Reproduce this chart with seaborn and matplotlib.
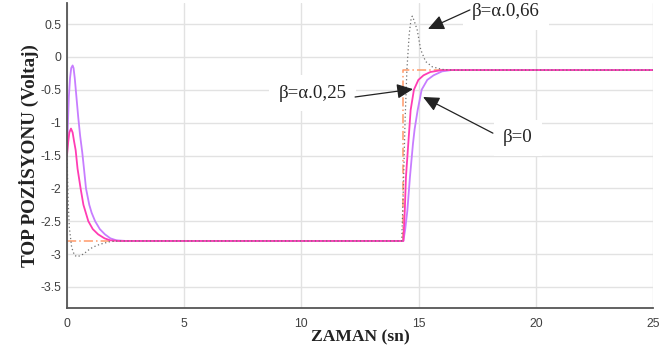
import seaborn as sns
import matplotlib.pyplot as plt

# time (s) / ball position (V)
t_ref = [0, 14.33, 14.33, 25]
v_ref = [-2.8, -2.8, -0.2, -0.2]

t_b0 = [0, 0.04, 0.08, 0.13, 0.18, 0.24, 0.28, 0.33, 0.40, 0.48, 0.56, 0.65, 0.73, 0.81,
        0.95, 1.05, 1.2, 1.4, 1.62, 1.85, 2.1, 2.5,
        14.35, 14.43, 14.52, 14.63, 14.76, 14.83, 14.96, 15.13, 15.37, 15.64, 16.0, 16.4, 25]
v_b0 = [-1.5, -1.0, -0.6, -0.32, -0.17, -0.13, -0.17, -0.32, -0.6, -0.92, -1.2, -1.45, -1.72, -2.0,
        -2.25, -2.37, -2.5, -2.62, -2.7, -2.76, -2.79, -2.8,
        -2.8, -2.62, -2.34, -1.83, -1.32, -1.1, -0.81, -0.5, -0.35, -0.28, -0.22, -0.2, -0.2]

t_b25 = [0, 0.05, 0.1, 0.17, 0.24, 0.3, 0.37, 0.45, 0.58, 0.7, 0.91, 1.1, 1.33, 1.6, 1.84, 2.2,
         14.35, 14.41, 14.46, 14.56, 14.66, 14.8, 14.99, 15.21, 15.5, 16.0, 25]
v_b25 = [-1.5, -1.3, -1.15, -1.09, -1.15, -1.28, -1.42, -1.7, -2.0, -2.25, -2.5, -2.62, -2.7, -2.76, -2.79, -2.8,
         -2.8, -2.34, -1.83, -1.32, -0.81, -0.5, -0.35, -0.28, -0.23, -0.2, -0.2]

t_b66 = [0, 0.05, 0.1, 0.2, 0.32, 0.45, 0.7, 0.98, 1.2, 1.41, 1.84, 2.2,
         14.28, 14.35, 14.42, 14.5, 14.6, 14.68, 14.73, 14.8, 14.94, 15.09, 15.3, 15.58, 16.0, 16.4, 25]
v_b66 = [-1.5, -2.2, -2.6, -2.9, -3.02, -3.04, -3.0, -2.92, -2.88, -2.85, -2.81, -2.8,
         -2.8, -2.0, -1.0, -0.2, 0.35, 0.58, 0.62, 0.56, 0.41, 0.11, -0.07, -0.15, -0.19, -0.2, -0.2]

x_ticks = [0, 5, 10, 15, 20, 25]
y_ticks = [0.5, 0, -0.5, -1, -1.5, -2, -2.5, -3, -3.5]

sns.set_theme(style="white")
plt.rcParams['font.family'] = ['Liberation Sans', 'DejaVu Sans']
plt.rcParams['axes.unicode_minus'] = False

fig = plt.figure(figsize=(6.7, 3.55), dpi=100)
ax = fig.add_axes([67 / 670, 47 / 355, 586 / 670, 305 / 355])

kw = dict(estimator=None, sort=False, ax=ax)
sns.lineplot(x=t_ref, y=v_ref, color="#ff9a6a", lw=1.1, linestyle=(0, (6, 2, 1, 2)), **kw)
sns.lineplot(x=t_b0, y=v_b0, color="#c77dff", lw=1.3, **kw)
sns.lineplot(x=t_b25, y=v_b25, color="#ff3cb4", lw=1.3, **kw)
sns.lineplot(x=t_b66, y=v_b66, color="#707070", lw=0.9, linestyle=(0, (1, 2)), **kw)

ax.set_xlim(0, 25)
ax.set_ylim(-3.82, 0.82)
ax.set_xticks(x_ticks)
ax.set_yticks(y_ticks)
ax.set_yticklabels([f"{v:g}" for v in y_ticks])
ax.grid(True, color="#e2e2e2", lw=1)
ax.set_axisbelow(True)
for s in ["top", "right"]:
    ax.spines[s].set_visible(False)
for s in ["left", "bottom"]:
    ax.spines[s].set_color("#555555")
    ax.spines[s].set_linewidth(1.3)
ax.tick_params(direction="in", length=8, width=1.2, color="#555555", labelcolor="#404040", labelsize=8.8)
ax.tick_params(axis="x", pad=7)
ax.tick_params(axis="y", pad=4)

serif = ['Liberation Serif', 'DejaVu Serif']
ax.set_xlabel("ZAMAN (sn)", family=serif, weight="bold", fontsize=12.6, color="#222222", labelpad=0)
ax.set_ylabel("TOP POZİSYONU (Voltaj)", family=serif, weight="bold", fontsize=13.8, color="#222222", labelpad=1)

box = dict(boxstyle="square,pad=0.5", fc="white", ec="none")
arr = dict(arrowstyle="-|>,head_length=0.65,head_width=0.3", mutation_scale=15, color="#222222", lw=0.9,
           shrinkA=0, shrinkB=0)
labels = [("β=α.0,66", (17.28, 0.685), (17.19, 0.715), (15.40, 0.425)),
          ("β=α.0,25", (9.04, -0.55), (12.29, -0.61), (14.76, -0.49)),
          ("β=0", (18.6, -1.23), (18.17, -1.16), (15.19, -0.61))]
for txt, pos, tail, tip in labels:
    ax.text(pos[0], pos[1], txt, family=serif, fontsize=13.6, color="#222222",
            ha="left", va="center", bbox=box, zorder=3)
    ax.annotate("", xy=tip, xytext=tail, arrowprops=arr, zorder=4)

fig.savefig("out.png", dpi=100)
